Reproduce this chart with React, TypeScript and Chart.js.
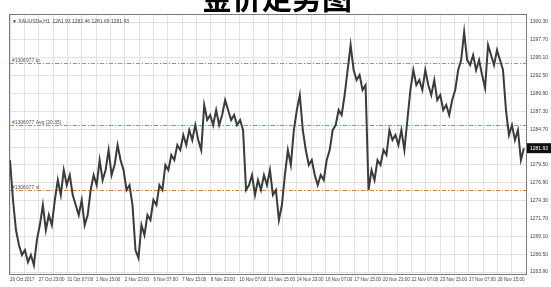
import React, { useEffect, useRef } from "react";
import { Chart, registerables } from "chart.js";

Chart.register(...registerables);

const chartTitle = "金价走势图";
const headerText = "▼ XAUUSDe,H1  1281.93 1282.46 1281.69 1281.93";
const lastPrice = 1281.93;

// hourly closes (left to right)
const prices = [
  1280.2, 1274.38, 1270.01, 1267.83, 1266.37, 1267.1, 1265.35, 1266.37, 1264.92, 1268.56,
  1270.74, 1273.65, 1270.01, 1272.2, 1270.74, 1274.38, 1277.29, 1275.11, 1278.75, 1276.56,
  1278.02, 1275.11, 1273.65, 1272.2, 1274.38, 1270.74, 1272.2, 1275.84, 1278.02, 1276.56,
  1280.2, 1277.29, 1278.75, 1281.66, 1278.02, 1279.48, 1282.39, 1280.2, 1278.75, 1275.84,
  1276.56, 1273.65, 1267.1, 1265.94, 1270.74, 1269.28, 1272.2, 1271.47, 1274.38, 1273.65,
  1276.56, 1275.84, 1279.48, 1278.75, 1280.93, 1280.2, 1282.39, 1281.66, 1283.84, 1282.39,
  1284.57, 1283.12, 1285.3, 1283.12, 1281.66, 1288.21, 1286.03, 1286.76, 1285.3, 1287.48,
  1285.3, 1286.76, 1288.94, 1287.48, 1286.03, 1286.76, 1285.3, 1286.03, 1284.57, 1275.84,
  1276.56, 1278.02, 1275.11, 1277.29, 1275.84, 1278.02, 1276.56, 1278.75, 1275.11, 1275.84,
  1271.47, 1273.65, 1278.02, 1281.66, 1279.48, 1284.57, 1287.48, 1289.67, 1284.57, 1281.66,
  1279.48, 1280.2, 1278.02, 1276.56, 1278.02, 1277.29, 1280.2, 1281.66, 1284.57, 1285.3,
  1287.48, 1286.76, 1289.67, 1293.31, 1296.95, 1293.31, 1291.85, 1292.58, 1290.4, 1291.12,
  1275.84, 1278.75, 1277.29, 1280.2, 1279.48, 1281.66, 1280.93, 1284.57, 1283.12, 1283.84,
  1282.39, 1284.57, 1281.66, 1286.03, 1290.4, 1293.31, 1291.12, 1291.85, 1290.4, 1293.31,
  1291.12, 1289.67, 1291.85, 1288.94, 1289.67, 1287.48, 1288.21, 1286.76, 1288.94, 1290.4,
  1293.31, 1294.76, 1298.84, 1294.76, 1294.04, 1295.49, 1293.31, 1294.76, 1292.58, 1290.69,
  1296.95, 1295.49, 1294.04, 1296.22, 1294.76, 1293.31, 1287.48, 1283.84, 1285.3, 1283.12,
  1284.57, 1280.2, 1281.93,
];

const xLabels = [
  "26 Oct 2017", "27 Oct 23:00", "31 Oct 07:00", "1 Nov 15:00", "2 Nov 23:00", "6 Nov 07:00",
  "7 Nov 15:00", "8 Nov 23:00", "10 Nov 07:00", "13 Nov 15:00", "14 Nov 23:00", "16 Nov 07:00",
  "17 Nov 15:00", "20 Nov 23:00", "22 Nov 07:00", "23 Nov 15:00", "27 Nov 07:00", "28 Nov 15:00",
];

const yTickValues = [
  1300.3, 1297.7, 1295.1, 1292.5, 1289.9, 1287.3, 1284.7, 1282.1, 1279.5, 1276.9,
  1274.3, 1271.7, 1269.1, 1266.5, 1263.9,
];

const levelPrices = [1294.33, 1285.3, 1275.84];
const levelLabels = ["#1306977 tp", "#1306977 Avg (20.35)", "#1306977 sl"];

const FONT = "'Liberation Sans', Arial, sans-serif";
const X_STEP = 9.6;

const decor = {
  id: "decor",
  beforeDatasetsDraw(chart: any) {
    const { ctx, chartArea, scales } = chart;
    ctx.save();
    levelPrices.forEach((p, i) => {
      const y = Math.round(scales.y.getPixelForValue(p)) + 0.5;
      ctx.strokeStyle = "#d9823f";
      ctx.lineWidth = 1;
      ctx.setLineDash([4, 2, 1, 2]);
      ctx.beginPath();
      ctx.moveTo(chartArea.left, y);
      ctx.lineTo(chartArea.right, y);
      ctx.stroke();
      ctx.setLineDash([]);
      ctx.fillStyle = "#555";
      ctx.font = `5px ${FONT}`;
      ctx.textBaseline = "bottom";
      ctx.textAlign = "left";
      ctx.fillText(levelLabels[i], chartArea.left + 2, y - 0.5);
    });
    ctx.restore();
  },
  afterDraw(chart: any) {
    const { ctx, chartArea, scales } = chart;
    ctx.save();
    // frame
    ctx.strokeStyle = "#7a7a7a";
    ctx.lineWidth = 1;
    ctx.strokeRect(
      chartArea.left - 0.5,
      chartArea.top - 0.5,
      chartArea.right - chartArea.left + 1,
      chartArea.bottom - chartArea.top + 1
    );
    // header
    ctx.fillStyle = "#444";
    ctx.font = `5px ${FONT}`;
    ctx.textAlign = "left";
    ctx.textBaseline = "middle";
    ctx.fillText(headerText, chartArea.left + 2, chartArea.top + 7);
    // price box
    const py = scales.y.getPixelForValue(lastPrice);
    ctx.fillStyle = "#111";
    ctx.fillRect(chartArea.right + 1, py - 5, 24, 10);
    ctx.fillStyle = "#fff";
    ctx.font = `5px ${FONT}`;
    ctx.fillText(lastPrice.toFixed(2), chartArea.right + 4, py);
    // title
    ctx.fillStyle = "#000";
    ctx.font = `bold 30px 'Noto Sans CJK SC', sans-serif`;
    ctx.textAlign = "center";
    ctx.textBaseline = "alphabetic";
    ctx.fillText(chartTitle, 277, 9);
    ctx.restore();
  },
};

export default function App() {
  const ref = useRef<HTMLCanvasElement | null>(null);

  useEffect(() => {
    document.body.style.margin = "0";
    const canvas = ref.current;
    if (!canvas) return;
    const chart = new Chart(canvas, {
      type: "line",
      data: {
        datasets: [
          {
            data: prices.map((p, i) => ({ x: i, y: p })),
            borderColor: "#3b3b3b",
            borderWidth: 2,
            pointRadius: 0,
            tension: 0,
          },
        ],
      },
      options: {
        responsive: false,
        animation: false,
        layout: { padding: { left: 10, top: 15, right: 0, bottom: 0 } },
        plugins: { legend: { display: false }, tooltip: { enabled: false } },
        scales: {
          x: {
            type: "linear",
            min: 0,
            max: prices.length - 0.3,
            afterBuildTicks: (scale: any) => {
              const t: any[] = [];
              for (let k = 0; k < xLabels.length * 2; k++) {
                const v = k * (X_STEP / 2);
                if (v <= prices.length - 0.3) t.push({ value: v });
              }
              scale.ticks = t;
            },
            afterFit: (scale: any) => {
              scale.height = 13;
            },
            grid: { color: "#e2e2e2", lineWidth: 1, drawTicks: false },
            border: { display: false },
            ticks: {
              autoSkip: false,
              maxRotation: 0,
              minRotation: 0,
              align: "start",
              padding: 3,
              color: "#444",
              font: { size: 4.5, family: FONT },
              callback: (_v: any, i: number) => (i % 2 === 0 ? xLabels[i / 2] ?? "" : ""),
            },
          },
          y: {
            position: "right",
            min: 1263.61,
            max: 1301.32,
            afterBuildTicks: (scale: any) => {
              scale.ticks = yTickValues.map((v) => ({ value: v }));
            },
            afterFit: (scale: any) => {
              scale.width = 25;
            },
            grid: { color: "#e2e2e2", lineWidth: 1, drawTicks: false },
            border: { display: false },
            ticks: {
              padding: 4,
              color: "#444",
              font: { size: 5, family: FONT },
              callback: (v: any) => Number(v).toFixed(2),
            },
          },
        },
      },
      plugins: [decor],
    });
    return () => chart.destroy();
  }, []);

  return (
    <div style={{ width: 551, height: 287, background: "#fff" }}>
      <canvas ref={ref} width={551} height={287} style={{ display: "block" }} />
    </div>
  );
}
